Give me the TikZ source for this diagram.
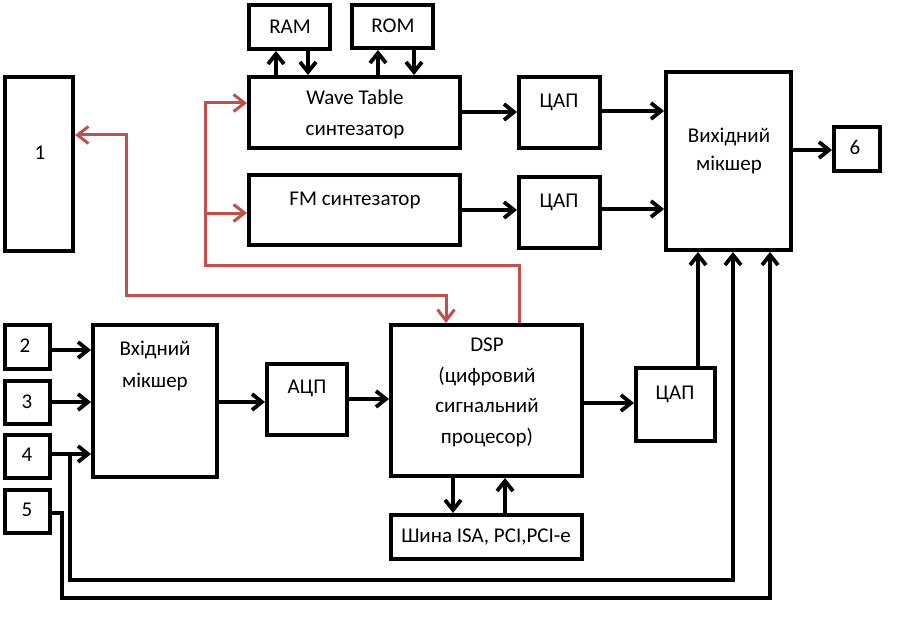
\documentclass[tikz,border=0pt]{standalone}
\usepackage{fontspec}
\setmainfont{Carlito}
\usepackage{tikz}
\usetikzlibrary{arrows.meta,positioning}
\definecolor{LineRed}{HTML}{C0504D}

\begin{document}
\begin{tikzpicture}[x=1pt, y=-1pt,
    block/.style={draw, line width=3.8pt, inner sep=0pt},
    boxtext/.style={align=center, font=\fontsize{21}{31}\selectfont, inner sep=0pt},
    arrow/.style={-{Straight Barb[length=10pt,width=16pt]}, line width=3.8pt},
    redarrow/.style={-{Straight Barb[length=11pt,width=17pt]}, line width=3pt, draw=LineRed}
]
\useasboundingbox (0,0) rectangle (920,631);
% blocks
\node[block, minimum width=81.2, minimum height=44.2] (ram) at (289.5,27) {};
\node[block, minimum width=81.2, minimum height=43.2] (rom) at (392.5,26.5) {};
\node[block, minimum width=211.2, minimum height=71.2] (wt) at (354.5,112.5) {};
\node[block, minimum width=211.2, minimum height=70.2] (fm) at (354.5,210) {};
\node[block, minimum width=68.2, minimum height=174.2] (one) at (39,164) {};
\node[block, minimum width=81.2, minimum height=71.2] (dac1) at (559.5,112.5) {};
\node[block, minimum width=81.2, minimum height=71.2] (dac2) at (559.5,212.5) {};
\node[block, minimum width=125.2, minimum height=178.2] (omix) at (728.5,161) {};
\node[block, minimum width=46.2, minimum height=44.2] (six) at (857,149) {};
\node[block, minimum width=45.2, minimum height=44.2] (n2) at (27.5,347) {};
\node[block, minimum width=45.2, minimum height=43.2] (n3) at (27.5,402.5) {};
\node[block, minimum width=45.2, minimum height=43.2] (n4) at (27.5,456.5) {};
\node[block, minimum width=45.2, minimum height=43.2] (n5) at (27.5,511.5) {};
\node[block, minimum width=124.2, minimum height=152.2] (imix) at (155,401) {};
\node[block, minimum width=80.2, minimum height=71.2] (adc) at (307,399.5) {};
\node[block, minimum width=191.2, minimum height=151.2] (dsp) at (486.5,400.5) {};
\node[block, minimum width=191.2, minimum height=44.2] (bus) at (486.5,537) {};
\node[block, minimum width=79.2, minimum height=73.2] (dac3) at (675.5,404.5) {};
% texts
\node[boxtext] (ram-t) at (290,27) {RAM};
\node[boxtext] (rom-t) at (393,26) {ROM};
\node[boxtext] (wt-t) at (355,114) {Wave Table\\синтезатор};
\node[boxtext] (fm-t) at (355,200) {FM синтезатор};
\node[boxtext] (one-t) at (40,153) {1};
\node[boxtext] (dac1-t) at (559,102) {ЦАП};
\node[boxtext] (dac2-t) at (559,202) {ЦАП};
\node[boxtext, font=\fontsize{21}{28}\selectfont] (omix-t) at (729,151) {Вихідний\\мікшер};
\node[boxtext] (six-t) at (855,147) {6};
\node[boxtext] (n2-t) at (25,346) {2};
\node[boxtext] (n3-t) at (27,402) {3};
\node[boxtext] (n4-t) at (27,455) {4};
\node[boxtext] (n5-t) at (27,510) {5};
\node[boxtext, font=\fontsize{21}{32}\selectfont] (imix-t) at (155,366) {Вхідний\\мікшер};
\node[boxtext] (adc-t) at (307,388) {АЦП};
\node[boxtext, font=\fontsize{21}{30.5}\selectfont] (dsp-t) at (487,392.5) {DSP\\(цифровий\\сигнальний\\процесор)};
\node[boxtext] (dac3-t) at (675,394) {ЦАП};
\node[boxtext] (bus-t) at (486,537) {Шина ISA, PCI,PCI-e};
% memory links
\draw[arrow] (wt.north -| 276,0) -- (ram.south -| 276,0);
\draw[arrow] (ram.south -| 308,0) -- (wt.north -| 308,0);
\draw[arrow] (wt.north -| 378,0) -- (rom.south -| 378,0);
\draw[arrow] (rom.south -| 414,0) -- (wt.north -| 414,0);
% synth paths
\draw[arrow] (wt.east |- 0,112) -- (dac1.west |- 0,112);
\draw[arrow] (dac1.east |- 0,111) -- (omix.west |- 0,111);
\draw[arrow] (fm.east |- 0,210) -- (dac2.west |- 0,210);
\draw[arrow] (dac2.east |- 0,209) -- (omix.west |- 0,209);
\draw[arrow] (omix.east |- 0,150) -- (six.west |- 0,150);
% inputs
\draw[arrow] (n2.east |- 0,350) -- (imix.west |- 0,350);
\draw[arrow] (n3.east |- 0,402) -- (imix.west |- 0,402);
\draw[arrow] (n4.east |- 0,454) -- (imix.west |- 0,454);
\draw[arrow] (imix.east |- 0,402) -- (adc.west |- 0,402);
\draw[arrow] (adc.east |- 0,399) -- (dsp.west |- 0,399);
\draw[arrow] (dsp.east |- 0,403) -- (dac3.west |- 0,403);
\draw[arrow] (dac3.north -| 698,0) -- (omix.south -| 698,0);
\draw[arrow] (dsp.south -| 453,0) -- (bus.north -| 453,0);
\draw[arrow] (bus.north -| 505,0) -- (dsp.south -| 505,0);
% bypass lines to output mixer
\coordinate (j4) at (70,454);
\coordinate (b4) at (733,580);
\coordinate (b5) at (770,598);
\draw[arrow] (j4) |- (b4) -- (omix.south -| b4);
\draw[arrow] (n5.east |- 0,513) -| (62,598) -- (b5) -- (omix.south -| b5);
% red control lines
\coordinate (r1) at (205,265);
\coordinate (r2) at (205,213);
\draw[redarrow] (dsp.north -| 519,0) |- (r1) |- (wt.west |- 0,103);
\draw[redarrow] (r2) -- (fm.west |- r2);
\draw[redarrow, {Straight Barb[length=11pt,width=17pt]}-{Straight Barb[length=11pt,width=17pt]}] (one.east |- 0,135) -| (126,295) -| (dsp.north -| 446,0);
\end{tikzpicture}
\end{document}
